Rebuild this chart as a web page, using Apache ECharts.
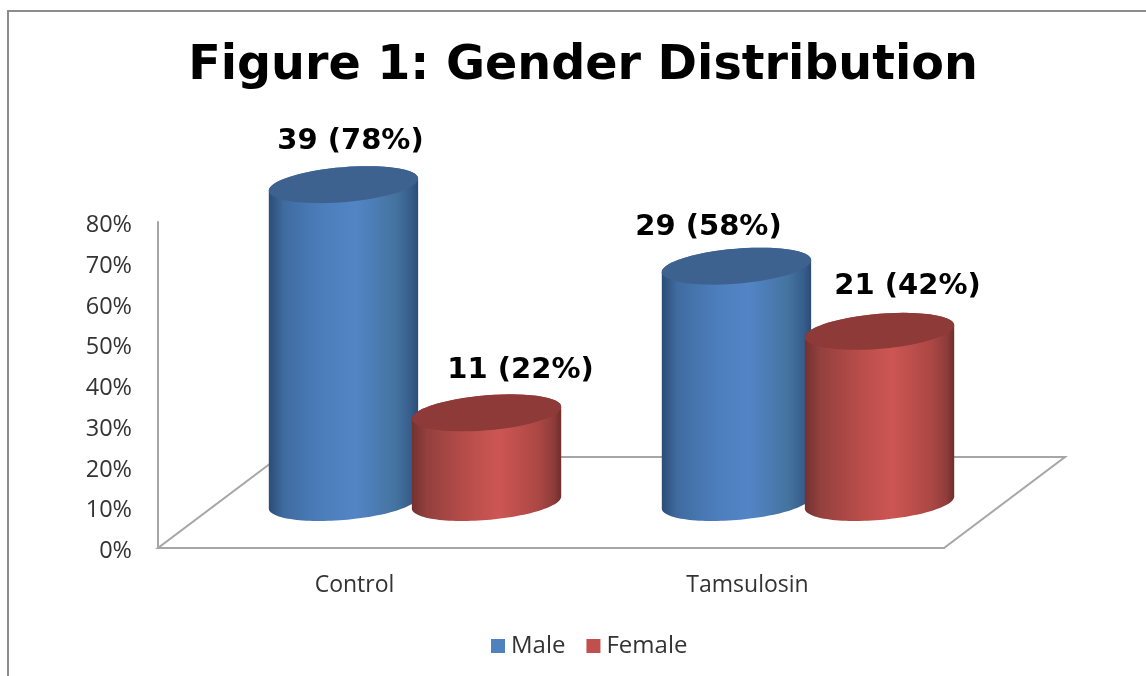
<!DOCTYPE html>
<html>
<head>
<meta charset="utf-8">
<style>
  html, body { margin: 0; background: #fff; }
  #chart { width: 1146px; height: 676px; }
</style>
<script src="https://cdn.jsdelivr.net/npm/echarts@6/dist/echarts.min.js"></script>
</head>
<body>
<div id="chart"></div>
<script>
const categories = ['Control', 'Tamsulosin']
const yTicks = [0, 10, 20, 30, 40, 50, 60, 70, 80]
const maleShare = [78, 58]
const femaleShare = [22, 42]
const maleCount = [39, 29]
const femaleCount = [11, 21]

// the fake 3d floor: how far the back edge sits from the front edge
const floorDx = 121
const floorDy = 91
const skew = 6

const sideStops = [0, 0.1, 0.35, 0.58, 0.85, 0.95, 1]
const blueSide = ['#2c4c75', '#3f6ba0', '#4c7dbb', '#5385c6', '#44739f', '#365d8c', '#2c4c75']
const redSide = ['#733130', '#93403e', '#b64c49', '#cd5654', '#ab4744', '#8e3c3a', '#6f2e2d']

const ringPoints = (cx, cy, a, b, from, to) => {
  const pts = []
  for (let i = 0; i <= 60; i++) {
    const t = from + (to - from) * i / 60
    pts.push([cx + a * Math.cos(t), cy + b * Math.sin(t) - skew * Math.cos(t)])
  }
  return pts
}

const sideGradient = colors => new echarts.graphic.LinearGradient(
  0, 0, 1, 0,
  colors.map((color, i) => ({ offset: sideStops[i], color }))
)

const cylinderItem = (side, colors, topColor, nudges) => (params, api) => {
  const idx = api.value(0)
  const band = api.size([1, 0])[0]
  const top = api.coord([idx, api.value(1)])
  const base = api.coord([idx, 0])
  const a = band * 0.19
  const b = 17.5
  const cx = top[0] + floorDx / 2 + side * band * 0.182
  const topY = top[1] - floorDy / 2
  const baseY = base[1] - floorDy / 2
  const nudge = nudges[idx]

  const body = ringPoints(cx, baseY, a, b, 0, Math.PI)
    .concat(ringPoints(cx, topY, a, b, Math.PI, Math.PI * 2))

  return {
    type: 'group',
    children: [
      { type: 'polygon', shape: { points: body }, style: { fill: sideGradient(colors) } },
      {
        type: 'polygon',
        shape: { points: ringPoints(cx, topY, a, b, 0, Math.PI * 2) },
        style: { fill: topColor }
      },
      {
        type: 'text',
        style: {
          x: cx + nudge[0],
          y: topY + nudge[1],
          text: api.value(2) + ' (' + api.value(1) + '%)',
          fill: '#000',
          font: 'bold 29px "DejaVu Sans"',
          align: 'center',
          verticalAlign: 'middle'
        }
      }
    ]
  }
}

const floorItem = params => {
  const box = params.coordSys
  const left = box.x
  const right = box.x + box.width
  const front = box.y + box.height
  return {
    type: 'polygon',
    shape: {
      points: [
        [left, front],
        [right, front],
        [right + floorDx, front - floorDy],
        [left + floorDx, front - floorDy]
      ]
    },
    style: { fill: 'none', stroke: '#a6a6a6', lineWidth: 2 },
    silent: true
  }
}

const rows = (shares, counts) => shares.map((v, i) => [i, v, counts[i]])

const chart = echarts.init(document.getElementById('chart'))

chart.setOption({
  backgroundColor: '#fff',
  animation: false,
  title: {
    text: 'Figure 1: Gender Distribution',
    left: 578,
    top: 38,
    textAlign: 'center',
    textStyle: { fontFamily: 'DejaVu Sans', fontWeight: 'bold', fontSize: 47.6, color: '#000' }
  },
  legend: {
    data: ['Male', 'Female'],
    left: 486,
    top: 629,
    icon: 'rect',
    itemWidth: 14,
    itemHeight: 14,
    itemGap: 21,
    textStyle: { fontFamily: 'Open Sans', fontSize: 24, color: '#333', padding: [0, 0, 0, 1] }
  },
  grid: { left: 158, right: 202, top: 222, bottom: 128 },
  xAxis: {
    type: 'category',
    data: categories,
    axisTick: { show: false },
    axisLine: { lineStyle: { color: '#a6a6a6', width: 2 } },
    axisLabel: { fontFamily: 'Open Sans', fontSize: 23, color: '#333', margin: 26 }
  },
  yAxis: {
    type: 'value',
    min: yTicks[0],
    max: yTicks[yTicks.length - 1],
    interval: 10,
    splitLine: { show: false },
    axisTick: { show: false },
    axisLine: { show: true, lineStyle: { color: '#a6a6a6', width: 2 } },
    axisLabel: {
      formatter: '{value}%',
      fontFamily: 'Open Sans',
      fontSize: 23.5,
      color: '#333',
      margin: 26,
      verticalAlign: 'top',
      lineHeight: 7
    }
  },
  graphic: [{
    type: 'polyline',
    shape: { points: [[8, 676], [8, 11], [1146, 11]] },
    style: { fill: 'none', stroke: '#8c8c8c', lineWidth: 2 },
    silent: true
  }],
  series: [
    {
      name: 'floor',
      type: 'custom',
      data: [[0, 0]],
      renderItem: floorItem
    },
    {
      name: 'Male',
      type: 'custom',
      itemStyle: { color: '#4f81bd' },
      data: rows(maleShare, maleCount),
      renderItem: cylinderItem(-1, blueSide, '#3e6290', [[7, -43], [-28, -39]])
    },
    {
      name: 'Female',
      type: 'custom',
      itemStyle: { color: '#c0504d' },
      data: rows(femaleShare, femaleCount),
      renderItem: cylinderItem(1, redSide, '#8e3a38', [[34, -42], [28, -45]])
    }
  ]
})
</script>
</body>
</html>
